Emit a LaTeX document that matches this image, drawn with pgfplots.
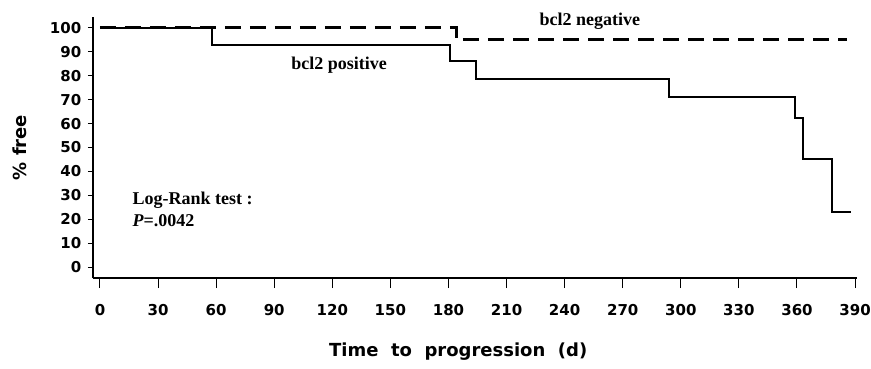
\documentclass[border=0pt]{standalone}
\usepackage{pgfplots}
\pgfplotsset{compat=1.18}
\usepackage{fontspec}
\setmainfont{DejaVu Sans}
\newfontfamily\serifb{Liberation Serif}
\begin{document}
\begin{tikzpicture}
\useasboundingbox (-93pt,-90pt) rectangle (778pt,278pt);
\begin{axis}[scale only axis, width=764pt, height=261pt,
 xmin=-3.6, xmax=391, ymin=-4.5, ymax=104.5,
 axis lines=left, axis line style={-, line width=1.6pt},
 xtick={0,30,...,390}, ytick={0,10,...,100},
 tick align=outside, tick style={black, line width=1pt},
 xtick style={/pgfplots/major tick length=10pt},
 ytick style={/pgfplots/major tick length=5pt},
 ticklabel style={font=\fontsize{15}{15}\selectfont\bfseries},
 xticklabel style={yshift=-19pt},
 yticklabel style={xshift=-4pt},
 /pgf/number format/assume math mode=true,
 xlabel={Time\ \ to\ \ progression\ \ (d)}, ylabel={\%\ free},
 every axis x label/.style={at={(axis description cs:0.478,-0.283)}, anchor=center, font=\fontsize{18}{18}\selectfont\bfseries},
 every axis y label/.style={at={(axis description cs:-0.0955,0.5)}, anchor=center, rotate=90, font=\fontsize{18}{18}\selectfont\bfseries},
 clip=false]
\addplot[black, line width=2pt, sharp plot] coordinates {
 (0,100)(58,100)(58,93)(181,93)(181,86)(194,86)(194,78.5)(294,78.5)(294,71)(359,71)(359,62.5)(363,62.5)(363,45)(378,45)(378,23)(388,23)};
\addplot[black, line width=2.6pt, sharp plot, dash pattern=on 16pt off 9pt] coordinates {
 (0,100)(184,100)(184,95)(386,95)};
\node[font=\serifb\bfseries\fontsize{18}{18}\selectfont] at (axis cs:253,102.9) {bcl2 negative};
\node[font=\serifb\bfseries\fontsize{18}{18}\selectfont] at (axis cs:123.5,84.3) {bcl2 positive};
\node[font=\serifb\bfseries\fontsize{18}{18}\selectfont, anchor=west] at (axis cs:15,28.1) {Log-Rank test :};
\node[font=\serifb\bfseries\fontsize{18}{18}\selectfont, anchor=west] at (axis cs:15,19.3) {\textit{P}=.0042};
\end{axis}
\end{tikzpicture}
\end{document}
